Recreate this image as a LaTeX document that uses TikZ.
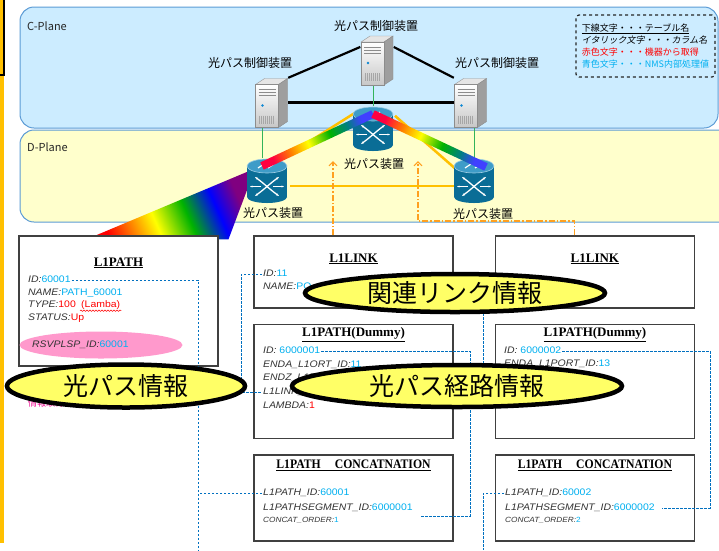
\documentclass[tikz,border=0pt]{standalone}
\usepackage{fontspec}
\setmainfont{Liberation Sans}
\newfontfamily\jp{Noto Sans CJK JP}
\newfontfamily\jpit[FakeSlant=0.2]{Noto Sans CJK JP}
\newfontfamily\fieldfont[FakeStretch=1.1]{Liberation Sans}
\newfontfamily\tblfont{Liberation Serif}
\newfontfamily\tblnarrow[FakeStretch=0.9]{Liberation Serif}
\usepackage{xcolor}
\usetikzlibrary{shapes.geometric, arrows.meta, positioning, calc, backgrounds, decorations.pathmorphing}
\definecolor{cplanefill}{HTML}{CCECFF}
\definecolor{dplanefill}{HTML}{FFFFCC}
\definecolor{planeedge}{HTML}{5B9BD5}
\definecolor{optorange}{HTML}{FFC000}
\definecolor{refarrow}{HTML}{FFA020}
\definecolor{keyblue}{HTML}{0070C0}
\definecolor{valblue}{HTML}{00B0F0}
\definecolor{valred}{HTML}{FF0000}
\definecolor{swbody}{HTML}{0A6D96}
\definecolor{swtop}{HTML}{3E9CC8}
\definecolor{mgmtgreen}{HTML}{33B35A}
\definecolor{bubblefill}{HTML}{FFFF66}
\definecolor{lspfill}{HTML}{FF99CC}
\definecolor{boxedge}{HTML}{404040}
\pgfdeclarehorizontalshading{spectrum}{100bp}{color(0bp)=(red); color(25bp)=(red); color(34bp)=(orange); color(43bp)=(yellow); color(55bp)=(green!70!black); color(66bp)=(blue); color(75bp)=(violet); color(100bp)=(violet)}
\pgfdeclarehorizontalshading{beamspec}{100bp}{color(0bp)=(red!75!magenta); color(25bp)=(red!75!magenta); color(35bp)=(orange); color(45bp)=(yellow); color(57bp)=(green!70!black); color(67bp)=(teal); color(75bp)=(blue!75); color(100bp)=(blue!75)}
\tikzstyle{plane} = [draw=planeedge, line width=1pt, rounded corners=14pt]
\tikzstyle{planelabel} = [font=\jp\fontsize{11}{12}\selectfont, text=black!85, anchor=west, inner sep=0pt]
\tikzstyle{iconbox} = [rectangle, inner sep=0pt, minimum width=33pt, minimum height=49pt]
\tikzstyle{swbox} = [rectangle, inner sep=0pt, minimum width=40pt, minimum height=46pt]
\tikzstyle{devlabel} = [font=\jp\fontsize{12}{13}\selectfont, inner sep=1pt]
\tikzstyle{ctrlline} = [black, line width=2.2pt]
\tikzstyle{mgmtline} = [mgmtgreen, line width=0.9pt]
\tikzstyle{optline} = [optorange, line width=2.5pt]
\tikzstyle{refline} = [refarrow, line width=1.1pt, dash pattern=on 6pt off 2pt on 1.5pt off 2pt, -{Straight Barb[length=4pt, width=8pt]}]
\tikzstyle{tablebox} = [rectangle, draw=boxedge, line width=1.4pt, fill=white, minimum width=199pt]
\tikzstyle{tabletitle} = [font=\tblfont\bfseries\fontsize{13}{14}\selectfont, inner sep=1pt]
\tikzstyle{field} = [font=\fieldfont\fontsize{9.5}{11}\selectfont, text=black!80, inner sep=1pt, anchor=west, text height=7pt, text depth=2pt]
\tikzstyle{keyline} = [keyblue, line width=0.9pt, dash pattern=on 2.5pt off 1.5pt]
\tikzstyle{bubble} = [ellipse, draw=black, line width=4.5pt, fill=bubblefill, inner sep=0pt, font=\jp\fontsize{25}{26}\selectfont]
\tikzstyle{legendbox} = [draw=black!85, dashed, line width=1.2pt, rounded corners=3pt, align=left, font=\jp\fontsize{9}{12}\selectfont]
\newcommand{\cname}[1]{{\itshape #1}}
\newcommand{\bval}[1]{\textcolor{valblue}{#1}}
\newcommand{\rval}[1]{\textcolor{valred}{#1}}
\tikzset{
  % optical switch: cylinder with crossing arrows
  switchicon/.pic={
    \fill[swbody] (-20,-15) rectangle (20,16);
    \fill[swbody] (0,16) ellipse (20 and 6);
    \fill[swtop, draw=swtop!50!white, line width=0.6pt] (0,-15) ellipse (20 and 7);
    \draw[white, line width=1.2pt] (-9,-13) -- (-3,-17) (1,-13) -- (7,-17);
    \draw[white, line width=1.3pt, {Stealth[length=3pt]}-{Stealth[length=3pt]}] (-12,-4) .. controls (-1,4) and (1,7) .. (12,15);
    \draw[white, line width=1.3pt, {Stealth[length=3pt]}-{Stealth[length=3pt]}] (12,-4) .. controls (1,4) and (-1,7) .. (-12,15);
    \draw[white, line width=1.1pt, -{Stealth[length=2.5pt]}] (-6,5.5) -- (-17,5.5);
    \draw[white, line width=1.1pt, -{Stealth[length=2.5pt]}] (6,5.5) -- (17,5.5);
  },
  % control server: small tower box
  servericon/.pic={
    \fill[black!10, draw=black!40, line width=0.4pt] (-16,-18) -- (-7,-24) -- (16,-24) -- (7,-18) -- cycle;
    \fill[black!38, draw=black!45, line width=0.4pt] (7,-18) -- (16,-24) -- (16,19) -- (7,25) -- cycle;
    \shade[top color=white, bottom color=black!22, draw=black!45, line width=0.4pt] (-16,-18) rectangle (7,25);
    \draw[black!45, line width=0.5pt] (-13,-13) -- (4,-13) (-13,-10) -- (4,-10) (-13,-7) -- (4,-7);
    \fill[cyan!70!blue] (-9,3) circle (1.3);
    \foreach \g in {-12,-10,...,2}
      \draw[black!35, line width=0.5pt] (\g,13) -- (\g,21);
  },
}

\begin{document}
\begin{tikzpicture}[x=1pt, y=-1pt]
  \useasboundingbox (0,0) rectangle (719,550);

  % side bar
  \fill[optorange] (0,0) rectangle (4,543);
  \draw[black, line width=1.6pt] (-3,-3) rectangle (4,75);

  % planes
  \begin{scope}[on background layer]
    \draw[plane, fill=cplanefill] (20,7) rectangle (718,128);
    \draw[plane, fill=dplanefill] (20,130) rectangle (745,222);
  \end{scope}
  \node (cLbl) [planelabel] at (27,26) {C-Plane};
  \node (dLbl) [planelabel] at (27,147) {D-Plane};

  % legend
  \node (legend) [legendbox, minimum width=139pt, minimum height=62pt] at (645.5,46)
    {\underline{下線文字・・・テーブル名}\\
     {\jpit イタリック文字・・・カラム名}\\
     \textcolor{valred}{赤色文字・・・機器から取得}\\
     \textcolor{valblue}{青色文字・・・NMS内部処理値}};

  % devices
  \node (srvC) [iconbox] at (377,60) {};
  \node (srvL) [iconbox] at (271.5,102.5) {};
  \node (srvR) [iconbox] at (470.5,102.5) {};
  \node (swC) [swbox] at (373,129) {};
  \node (swL) [swbox] at (267,181) {};
  \node (swR) [swbox] at (474,181) {};

  \node (srvCLbl) [devlabel] at (376,26) {光パス制御装置};
  \node (srvLLbl) [devlabel] at (250,63) {光パス制御装置};
  \node (srvRLbl) [devlabel] at (497,63) {光パス制御装置};
  \node (swCLbl) [devlabel] at (374,164) {光パス装置};
  \node (swLLbl) [devlabel] at (273,213) {光パス装置};
  \node (swRLbl) [devlabel] at (483,214) {光パス装置};

  % control and management links
  \draw[ctrlline] (srvC.142) -- (srvL.north east);
  \draw[ctrlline] (srvC.38) -- (srvR.north west);
  \draw[ctrlline] (srvL.east) -- (srvR.west);
  \draw[mgmtline] ([xshift=-5pt]swL.north |- srvL.south) -- ([xshift=-5pt]swL.north);
  \draw[mgmtline] (srvC.south -| swC.north) -- (swC.north);
  \draw[mgmtline] (srvR.south -| swR.north) -- (swR.north);

  % fibre links
  \draw[optline] ([shift={(23,-4)}]swL.north) -- ([shift={(-18,7)}]swC.north);
  \draw[optline] ([shift={(22,10)}]swC.north) -- ([shift={(-16,-10)}]swR.center);
  \draw[optline] ([xshift=3pt,yshift=-5pt]swL.east) -- ([yshift=-5pt]swR.west);

  \pic at (swC) {switchicon};
  \pic at (swL) {switchicon};
  \pic at (swR) {switchicon};
  \pic at (srvC) {servericon};
  \pic at (srvL) {servericon};
  \pic at (srvR) {servericon};

  % lit path
  \coordinate (bmL) at ([shift={(-5,-15)}]swL.center);
  \coordinate (bmC) at ([shift={(0,-15)}]swC.center);
  \coordinate (bmR) at ([shift={(12,-14)}]swR.center);
  \shade[shading=beamspec, shading angle=23]
    ($(bmL)!4pt!90:(bmC)$) -- ($(bmL)!4pt!-90:(bmC)$) -- ($(bmC)!4pt!90:(bmL)$) -- ($(bmC)!4pt!-90:(bmL)$) -- cycle;
  \shade[shading=beamspec, shading angle=-24]
    ($(bmC)!4pt!90:(bmR)$) -- ($(bmC)!4pt!-90:(bmR)$) -- ($(bmR)!4pt!90:(bmC)$) -- ($(bmR)!4pt!-90:(bmC)$) -- cycle;

  % tables
  \node (pathBox) [tablebox, minimum height=130pt] at (118.5,301) {};
  \node (linkBox) [tablebox, minimum height=72pt] at (353.5,272) {};
  \node (linkBox2) [tablebox, minimum height=72pt, right=41pt of linkBox] {};
  \node (dumBox) [tablebox, minimum height=114pt, below=15pt of linkBox] {};
  \node (dumBox2) [tablebox, minimum height=114pt, right=41pt of dumBox] {};
  \node (catBox) [tablebox, minimum height=86pt, below=15pt of dumBox] {};
  \node (catBox2) [tablebox, minimum height=86pt, right=41pt of catBox] {};

  \begin{scope}[on background layer]
    \shade[shading=spectrum, shading angle=24]
      ([shift={(0,-9)}]swL.west) -- ([shift={(4,-1)}]swL.west) -- ([shift={(110,4)}]pathBox.north) -- ([shift={(-32,4)}]pathBox.north) -- cycle;
  \end{scope}

  \node (pathTitle) [tabletitle, below=21pt of pathBox.north] {\underline{L1PATH}};
  \node (linkTitle) [tabletitle, below=17pt of linkBox.north] {\underline{L1LINK}};
  \node (linkTitle2) [tabletitle, below=17pt of linkBox2.north] {\underline{L1LINK}};
  \node (dumTitle) [tabletitle, below=3pt of dumBox.north] {\underline{L1PATH(Dummy)}};
  \node (dumTitle2) [tabletitle, below=3pt of dumBox2.north] {\underline{L1PATH(Dummy)}};
  \node (catTitle) [tabletitle, font=\tblnarrow\bfseries\fontsize{13}{14}\selectfont, below=5pt of catBox.north]
    {\underline{L1PATH\hspace{14pt}CONCATNATION}};
  \node (catTitle2) [tabletitle, font=\tblnarrow\bfseries\fontsize{13}{14}\selectfont, below=5pt of catBox2.north]
    {\underline{L1PATH\hspace{14pt}CONCATNATION}};

  % L1PATH columns
  \node (lspMark) [ellipse, fill=lspfill, minimum width=163pt, minimum height=27pt] at (101,345) {};
  \node (pathId) [field] at (27,280) {\cname{ID:}\bval{60001}};
  \node (pathName) [field] at (27,293) {\cname{NAME:}\bval{PATH\_60001}};
  \node (pathType) [field] at (27,305) {\cname{TYPE:}\rval{100}};
  \node (pathLamba) [field, anchor=base west] at ([xshift=3pt]pathType.base east) {\rval{(Lamba)}};
  \draw[valred, line width=0.5pt, decorate, decoration={snake, amplitude=0.7pt, segment length=3pt}]
    (pathLamba.south west) -- (pathLamba.south east);
  \node (pathStatus) [field] at (27,318) {\cname{STATUS:}\rval{Up}};
  \node (pathLsp) [field] at (31,345) {\cname{RSVPLSP\_ID:}\bval{60001}};
  \node (pathNote) [field, text=magenta, font=\jp\fontsize{9}{10}\selectfont] at (27,404) {情報取得};

  % L1LINK columns
  \node (linkId) [field] at (262,274) {\cname{ID:}\bval{11}};
  \node (linkName) [field] at (262,287) {\cname{NAME:}\bval{PO}};
  \coordinate (linkId2) at (503,273);

  % L1PATH(Dummy) columns
  \node (dumId) [field] at (262,351) {\cname{ID: }\bval{6000001}};
  \node (dumEndA) [field] at (262,365) {\cname{ENDA\_L1ORT\_ID:}\bval{11}};
  \node (dumEndZ) [field] at (262,378) {\cname{ENDZ\_L1P}};
  \node (dumLink) [field] at (262,392) {\cname{L1LINK\_}};
  \node (dumLambda) [field] at (262,406) {\cname{LAMBDA:}\rval{1}};
  \node (dumId2) [field] at (503,351) {\cname{ID: }\bval{6000002}};
  \node (dumEndA2) [field] at (503,364) {\cname{ENDA\_L1PORT\_ID:}\bval{13}};
  \coordinate (dumLink2) at (503,392);

  % L1PATH CONCATNATION columns
  \node (catPid) [field] at (262,493) {\cname{L1PATH\_ID:}\bval{60001}};
  \node (catSeg) [field] at (262,508) {\cname{L1PATHSEGMENT\_ID:}\bval{6000001}};
  \node (catOrd) [field, font=\fieldfont\fontsize{7.5}{9}\selectfont] at (262,520) {\cname{CONCAT\_ORDER:}\bval{1}};
  \node (catPid2) [field] at (504,493) {\cname{L1PATH\_ID:}\bval{60002}};
  \node (catSeg2) [field] at (504,508) {\cname{L1PATHSEGMENT\_ID:}\bval{6000002}};
  \node (catOrd2) [field, font=\fieldfont\fontsize{7.5}{9}\selectfont] at (504,520) {\cname{CONCAT\_ORDER:}\bval{2}};

  % key references
  \coordinate (trunkP) at (198,550);
  \coordinate (trunkL) at (241,0);
  \coordinate (trunkD) at (470,0);
  \coordinate (trunkD2) at (710,0);
  \coordinate (trunkR) at (483,550);
  \draw[keyline] (pathId.east) -| (trunkP);
  \draw[keyline] (catPid.west) -- (catPid.west -| trunkP);
  \draw[keyline] (linkId.west) -- (linkId.west -| trunkL) |- (dumLink.west);
  \draw[keyline] (dumId.east) -- (dumId.east -| trunkD) |- ([shift={(6,8)}]catSeg.east);
  \draw[keyline] (dumId2.east) -- (dumId2.east -| trunkD2) |- ([xshift=6pt]catSeg2.east);
  \draw[keyline] (linkId2) -- (linkId2 -| trunkR) |- (dumLink2);
  \draw[keyline] (catPid2.west) -| (trunkR);

  % references up to the network
  \coordinate (tapA) at (333,161);
  \coordinate (tapB) at (418,161);
  \coordinate (turnB) at (418,221);
  \draw[refline] (linkBox.north -| tapA) -- (tapA);
  \draw[refline] ([xshift=-20pt]linkBox2.north) |- (turnB) -- (tapB);

  % call-outs
  \node (bubPath) [bubble, minimum width=238pt, minimum height=43pt] at (126,386) {光パス情報};
  \node (bubLink) [bubble, minimum width=300pt, minimum height=38pt] at (455,293) {関連リンク情報};
  \node (bubRoute) [bubble, minimum width=330pt, minimum height=42pt] at (457,386) {光パス経路情報};
\end{tikzpicture}
\end{document}
